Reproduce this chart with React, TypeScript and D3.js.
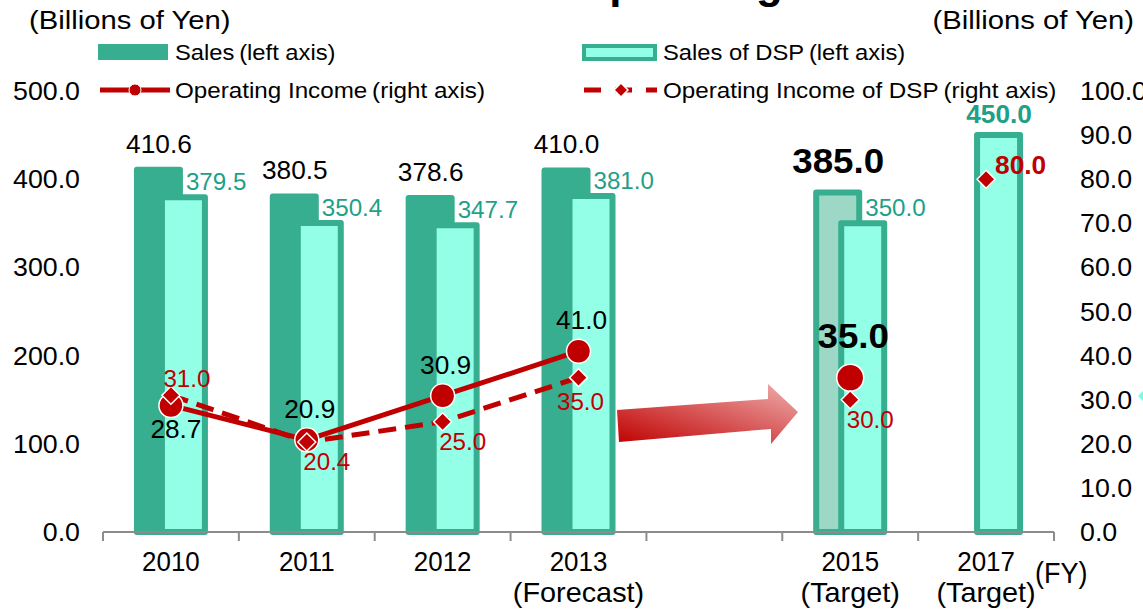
import React from "react";
import * as d3 from "d3";

// ---------- data ----------
const categories = ["2010", "2011", "2012", "2013", "gap", "2015", "2017"];
const categoryLabels: string[][] = [
  ["2010"],
  ["2011"],
  ["2012"],
  ["2013", "(Forecast)"],
  [],
  ["2015", "(Target)"],
  ["2017", "(Target)"],
];
const sales: (number | null)[] = [410.6, 380.5, 378.6, 410.0, null, 385.0, null];
const salesDSP: (number | null)[] = [379.5, 350.4, 347.7, 381.0, null, 350.0, 450.0];
const operatingIncome: (number | null)[] = [28.7, 20.9, 30.9, 41.0, null, 35.0, null];
const operatingIncomeDSP: (number | null)[] = [31.0, 20.4, 25.0, 35.0, null, 30.0, 80.0];
const isTarget = [false, false, false, false, false, true, true];
const leftTicks = [0, 100, 200, 300, 400, 500];
const rightTicks = [0, 10, 20, 30, 40, 50, 60, 70, 80, 90, 100];

// label placement (presentation only)
const oiLabelPlace = ["below", "above", "above", "above", null, "aboveBig", null];
const oiDSPLabelPlace = ["aboveRight", "belowRight", "belowRight", "below", null, "belowRight", "right"];

// ---------- styles ----------
const FONT = "'Liberation Sans', Arial, 'Noto Sans CJK JP', sans-serif";
const DARK_GREEN = "#36AE8F";
const LIGHT_AQUA = "#92FFE6";
const TARGET_SALES = "#9DD8C7";
const RED = "#C00000";
const TEAL_TEXT = "#1FA088";

const W = 1143;
const H = 610;
const X0 = 103;
const X1 = 1054;
const Y0 = 532;
const YTOP = 91;

type TP = {
  x: number;
  y: number;
  sx?: number;
  size: number;
  anchor?: "start" | "middle" | "end";
  fill?: string;
  bold?: boolean;
  children: React.ReactNode;
};
function T({ x, y, sx = 1, size, anchor = "start", fill = "#000", bold = false, children }: TP) {
  return (
    <text
      transform={`translate(${x},${y}) scale(${sx},1)`}
      fontSize={size}
      textAnchor={anchor}
      fill={fill}
      fontWeight={bold ? "bold" : "normal"}
    >
      {children}
    </text>
  );
}

export default function App() {
  const x = d3.scaleBand<string>().domain(categories).range([X0, X1]).padding(0);
  const yL = d3.scaleLinear().domain([0, 500]).range([Y0, YTOP]);
  const yR = d3.scaleLinear().domain([0, 100]).range([Y0, YTOP]);
  const c = (i: number) => (x(categories[i]) as number) + x.bandwidth() / 2;

  const lineIdx = [0, 1, 2, 3];
  const oiLine = d3
    .line<number>()
    .x((i) => c(i))
    .y((i) => yR(operatingIncome[i] as number))(lineIdx);
  const oiDSPLine = d3
    .line<number>()
    .x((i) => c(i))
    .y((i) => yR(operatingIncomeDSP[i] as number))(lineIdx);

  const boundaries = d3.range(categories.length + 1).map((i) => X0 + i * x.bandwidth());

  const diamond = (cx: number, cy: number, r: number) =>
    `M${cx},${cy - r}L${cx + r},${cy}L${cx},${cy + r}L${cx - r},${cy}Z`;

  return (
    <svg
      width={W}
      height={H}
      style={{ position: "absolute", left: 0, top: 0, background: "#fff" }}
      fontFamily={FONT}
    >
      <defs>
        <linearGradient id="arrowGrad" x1="0" y1="1" x2="1" y2="0">
          <stop offset="0%" stopColor="#C00000" />
          <stop offset="100%" stopColor="#EFAFAF" />
        </linearGradient>
        <linearGradient id="tealGrad" x1="0" y1="0" x2="1" y2="0">
          <stop offset="0%" stopColor="#7FFFE6" />
          <stop offset="100%" stopColor="#20D0B8" />
        </linearGradient>
      </defs>

      {/* clipped title */}
      <text x={565} y={-2} fontSize={44} fontWeight="bold" textAnchor="end" fill="#000">
        Sales and
      </text>
      <text x={575} y={-2} fontSize={44} fontWeight="bold" fill="#000">
        Operating Income
      </text>

      {/* unit labels */}
      <T x={29} y={29} size={25} sx={1.17}>(Billions of Yen)</T>
      <T x={1134} y={29} size={25} sx={1.17} anchor="end">(Billions of Yen)</T>

      {/* legend */}
      <rect x={98} y={44} width={70} height={16} fill={DARK_GREEN} />
      <T x={175} y={60} size={22} sx={1.08}>Sales{"\u2009"}(left axis)</T>
      <rect x={584} y={46} width={71} height={13} fill={LIGHT_AQUA} stroke={DARK_GREEN} strokeWidth={4} />
      <T x={663} y={60} size={22} sx={1.08}>Sales of DSP{"\u2009"}(left axis)</T>

      <line x1={100} x2={170} y1={90} y2={90} stroke={RED} strokeWidth={5} />
      <circle cx={135} cy={90} r={6} fill={RED} stroke="#fff" strokeWidth={1} />
      <T x={175} y={98} size={22} sx={1.1}>Operating Income{"\u2009"}(right axis)</T>
      <line x1={584} x2={657} y1={90} y2={90} stroke={RED} strokeWidth={5} strokeDasharray="17,14" />
      <path d={diamond(621, 90, 7)} fill={RED} stroke="#fff" strokeWidth={1.5} />
      <T x={663} y={98} size={22} sx={1.1}>Operating Income of DSP{"\u2009"}(right axis)</T>

      {/* left axis labels */}
      {leftTicks.map((t) => (
        <T key={"l" + t} x={80} y={yL(t) + 9} size={26} sx={1.03} anchor="end">
          {t.toFixed(1)}
        </T>
      ))}
      {/* right axis labels */}
      {rightTicks.map((t) => (
        <T key={"r" + t} x={1080} y={yR(t) + 9} size={26} sx={1.03}>
          {t.toFixed(1)}
        </T>
      ))}

      {/* bars */}
      {categories.map((cat, i) => {
        const cx = c(i);
        const s = sales[i];
        const d = salesDSP[i];
        return (
          <g key={"bar" + cat}>
            {s != null && (
              <rect
                x={cx - 34}
                y={yL(s)}
                width={43}
                height={Y0 - yL(s)}
                fill={isTarget[i] ? TARGET_SALES : DARK_GREEN}
                stroke={DARK_GREEN}
                strokeWidth={6}
                strokeLinejoin="round"
              />
            )}
            {d != null && (
              <rect
                x={cx - 9}
                y={yL(d)}
                width={43}
                height={Y0 - yL(d)}
                fill={LIGHT_AQUA}
                stroke={DARK_GREEN}
                strokeWidth={6}
                strokeLinejoin="round"
              />
            )}
          </g>
        );
      })}

      {/* x axis */}
      <line x1={X0} x2={X1} y1={Y0} y2={Y0} stroke="#8C8C8C" strokeWidth={2} />
      {boundaries.map((bx, i) => (
        <line key={"tk" + i} x1={bx} x2={bx} y1={Y0} y2={Y0 + 9} stroke="#8C8C8C" strokeWidth={2} />
      ))}

      {/* category labels */}
      {categoryLabels.map((lines, i) =>
        lines.map((ln, j) => (
          <T
            key={"cl" + i + j}
            x={c(i)}
            y={j === 0 ? 571 : 602}
            size={j === 0 ? 27 : 28}
            sx={j === 0 ? 0.96 : 1.03}
            anchor="middle"
          >
            {ln}
          </T>
        ))
      )}
      <T x={1035} y={583} size={30} sx={0.9}>(FY)</T>

      {/* sales labels */}
      {categories.map((cat, i) => {
        const s = sales[i];
        if (s == null) return null;
        const big = isTarget[i];
        return (
          <T
            key={"sl" + cat}
            x={c(i) - 12}
            y={yL(s) - (big ? 19 : 17)}
            size={big ? 35 : 25}
            sx={1.05}
            bold={big}
            anchor="middle"
          >
            {s.toFixed(1)}
          </T>
        );
      })}
      {/* DSP sales labels */}
      {categories.map((cat, i) => {
        const d = salesDSP[i];
        if (d == null) return null;
        const bold = isTarget[i] && sales[i] == null;
        return bold ? (
          <T key={"dl" + cat} x={c(i) + 13} y={yL(d) - 12} size={25} sx={1.05} bold fill={TEAL_TEXT} anchor="middle">
            {d.toFixed(1)}
          </T>
        ) : (
          <T key={"dl" + cat} x={c(i) + 15} y={yL(d) - 7} size={23} sx={1.05} fill={TEAL_TEXT}>
            {d.toFixed(1)}
          </T>
        );
      })}

      {/* arrow */}
      <path
        d="M617,410 L768,399 L768,384 L798,412 L771,444 L771,429 L619,442 Z"
        fill="url(#arrowGrad)"
      />

      {/* right-edge teal shape */}
      <path d={diamond(1166, 396, 28)} fill="url(#tealGrad)" />

      {/* lines */}
      <path d={oiDSPLine ?? ""} fill="none" stroke={RED} strokeWidth={5} strokeDasharray="18,9" />
      <path d={oiLine ?? ""} fill="none" stroke={RED} strokeWidth={5} />

      {/* OI markers */}
      {categories.map((cat, i) => {
        const v = operatingIncome[i];
        if (v == null) return null;
        return (
          <circle key={"oc" + cat} cx={c(i)} cy={yR(v)} r={isTarget[i] ? 13.5 : 12} fill={RED} stroke="#fff" strokeWidth={1.5} />
        );
      })}
      {/* DSP OI markers */}
      {categories.map((cat, i) => {
        const v = operatingIncomeDSP[i];
        if (v == null) return null;
        return <path key={"od" + cat} d={diamond(c(i), yR(v), 9)} fill={RED} stroke="#fff" strokeWidth={1.5} />;
      })}

      {/* OI labels */}
      {categories.map((cat, i) => {
        const v = operatingIncome[i];
        const p = oiLabelPlace[i];
        if (v == null || !p) return null;
        const y = yR(v);
        if (p === "below")
          return (
            <T key={"ol" + cat} x={c(i) + 5} y={y + 33} size={25} sx={1.05} anchor="middle">
              {v.toFixed(1)}
            </T>
          );
        if (p === "aboveBig")
          return (
            <T key={"ol" + cat} x={c(i) + 3} y={y - 30} size={35} sx={1.05} bold anchor="middle">
              {v.toFixed(1)}
            </T>
          );
        return (
          <T key={"ol" + cat} x={c(i) + 3} y={y - 22} size={25} sx={1.05} anchor="middle">
            {v.toFixed(1)}
          </T>
        );
      })}
      {/* DSP OI labels */}
      {categories.map((cat, i) => {
        const v = operatingIncomeDSP[i];
        const p = oiDSPLabelPlace[i];
        if (v == null || !p) return null;
        const y = yR(v);
        const cx = c(i);
        if (p === "right")
          return (
            <T key={"dol" + cat} x={cx + 9} y={y - 5} size={25} sx={1.05} bold fill={RED}>
              {v.toFixed(1)}
            </T>
          );
        const off: Record<string, [number, number]> = {
          aboveRight: [16, -8],
          belowRight: [20, 28],
          below: [2, 32],
        };
        const [dx, dy] = off[p];
        return (
          <T key={"dol" + cat} x={cx + dx} y={y + dy} size={23} sx={1.05} fill={RED} anchor="middle">
            {v.toFixed(1)}
          </T>
        );
      })}
    </svg>
  );
}
